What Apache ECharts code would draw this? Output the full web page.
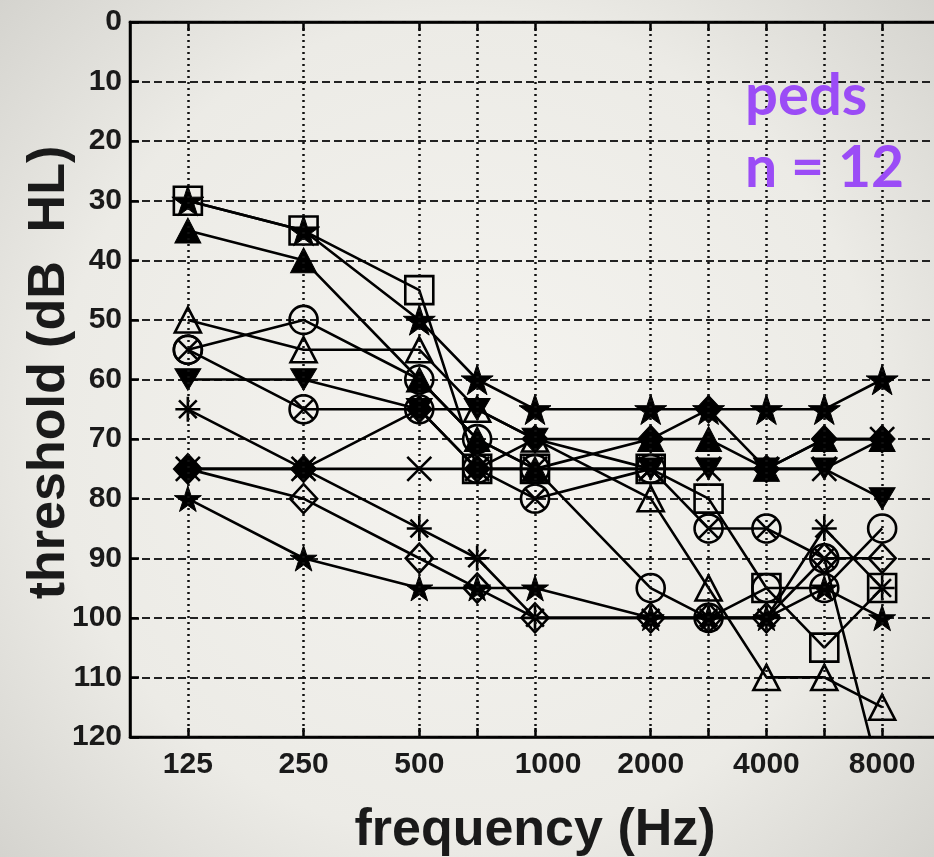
<!DOCTYPE html>
<html><head><meta charset="utf-8">
<script src="https://cdn.jsdelivr.net/npm/echarts@6/dist/echarts.min.js"></script>
<style>html,body{margin:0;padding:0;background:#eceae5}#c{width:934px;height:857px}</style>
</head><body><div id="c"></div>
<script>
// ---------- data ----------
const frequencies = [125, 250, 500, 750, 1000, 2000, 3000, 4000, 6000, 8000];
const tickLabels = ['125', '250', '500', '1000', '2000', '4000', '8000'];
const yMin = 0, yMax = 120, yStep = 10;

const subjSquare      = [30, 35, 45, 75, 75, 75, 80, 95, 105, 95];
const subjStarA       = [30, 35, 50, 60, 65, 65, 65, 65, 65, 60];
const subjTriUpFilled = [35, 40, 60, 70, 75, 70, 70, 75, 70, 70];
const subjTriUpOpen   = [50, 55, 55, 65, 70, 80, 95, 110, 110, 115];
const subjCircle      = [55, 50, 60, 70, 75, 95, 100, 95, 95, 85];
const subjCircleX     = [55, 65, 65, 75, 80, 75, 85, 85, 90, 128];
const subjTriDown     = [60, 60, 65, 65, 70, 75, 75, 75, 75, 80];
const subjAsterisk    = [65, 75, 85, 90, 100, 100, 100, 100, 85, 95];
const subjX           = [75, 75, 75, 75, 75, 75, 75, 75, 75, 70];
const subjDiamondOpen = [75, 80, 90, 95, 100, 100, 100, 100, 90, 90];
const subjStarB       = [80, 90, 95, 95, 95, 100, 100, 100, 95, 100];
const subjDiamondFill = [75, 75, 65, 75, 70, 70, 65, 75, 70, 70];

// ---------- audiogram frequency scale (octaves, inter-octaves mid-way) ----------
function octavePos(f) {
  const o = Math.floor(Math.log2(f / 125) + 1e-9);
  const base = 125 * Math.pow(2, o);
  return o + (f - base) / base;
}
const gridPos = frequencies.map(octavePos);
const labelPos = tickLabels.map(t => octavePos(+t));

// ---------- marker shapes ----------
function circlePts(n) {
  let s = '';
  for (let i = 0; i <= n; i++) {
    const a = 2 * Math.PI * i / n;
    s += (i ? ' L' : 'M') + (50 + 50 * Math.cos(a)).toFixed(2) + ',' + (50 + 50 * Math.sin(a)).toFixed(2);
  }
  return s + ' Z';
}
const P = {
  star: 'path://M50,0 L61.17,34.63 L97.55,34.55 L68.07,55.87 L79.39,90.45 L50,69 L20.61,90.45 L31.93,55.87 L2.45,34.55 L38.83,34.63 Z',
  triDown: 'path://M0,0 L100,0 L50,87 Z',
  asterisk: 'path://M50,0 L50,100 M0,50 L100,50 M14.6,14.6 L85.4,85.4 M85.4,14.6 L14.6,85.4',
  x: 'path://M0,0 L100,100 M100,0 L0,100',
  circleX: 'path://' + circlePts(48) + ' M14.6,14.6 L85.4,85.4 M85.4,14.6 L14.6,85.4'
};

const subjects = [
  { data: subjSquare,      symbol: 'rect',     size: 28, filled: false },
  { data: subjStarA,       symbol: P.star,     size: 32, filled: true },
  { data: subjTriUpFilled, symbol: 'triangle', size: [26, 25], filled: true },
  { data: subjTriUpOpen,   symbol: 'triangle', size: [26, 25], filled: false },
  { data: subjCircle,      symbol: 'circle',   size: 28, filled: false },
  { data: subjCircleX,     symbol: P.circleX,  size: 28, filled: false },
  { data: subjTriDown,     symbol: P.triDown,  size: [26, 25], filled: true },
  { data: subjAsterisk,    symbol: P.asterisk, size: 25, filled: false },
  { data: subjX,           symbol: P.x,        size: 24, filled: false },
  { data: subjDiamondOpen, symbol: 'diamond',  size: [27, 29], filled: false },
  { data: subjStarB,       symbol: P.star,     size: 27, filled: true },
  { data: subjDiamondFill, symbol: 'diamond',  size: [26, 28], filled: true }
];

const chart = echarts.init(document.getElementById('c'), null, { renderer: 'canvas' });

const series = subjects.map(s => ({
  type: 'line',
  data: frequencies.map((f, i) => [octavePos(f), s.data[i]]),
  symbol: s.symbol,
  symbolSize: s.size,
  symbolKeepAspect: true,
  showAllSymbol: true,
  clip: true,
  z: 3,
  lineStyle: { color: '#000', width: 2.6 },
  itemStyle: {
    color: s.filled ? '#000' : 'rgba(0,0,0,0)',
    borderColor: '#000',
    borderWidth: s.filled ? 1 : 2.6
  },
  emphasis: { disabled: true }
}));

// vertical dotted grid lines at audiogram frequencies
series.unshift({
  type: 'line',
  data: [],
  z: 1,
  silent: true,
  markLine: {
    silent: true,
    symbol: ['none', 'none'],
    label: { show: false },
    lineStyle: { color: '#111', type: [2, 4], width: 2.5 },
    data: gridPos.map(v => ({ xAxis: v })),
    animation: false
  }
});

const tickFont = { fontFamily: 'Liberation Sans', fontWeight: 'bold', fontSize: 30, color: '#1a1a1a' };

chart.setOption({
  animation: false,
  backgroundColor: {
    type: 'radial', x: 0.5, y: 0.5, r: 0.8,
    colorStops: [
      { offset: 0, color: '#f5f4f0' },
      { offset: 0.6, color: '#ecebe6' },
      { offset: 1, color: '#cfcec9' }
    ]
  },
  grid: {
    left: 130, top: 22, width: 810, height: 715,
    outerBoundsMode: 'none',
    containLabel: false,
    show: true, borderColor: '#000', borderWidth: 2.5, backgroundColor: 'transparent'
  },
  xAxis: [{
    type: 'value', min: -0.5, max: 6.5,
    position: 'bottom',
    splitLine: { show: false },
    axisLine: { show: true, onZero: false, lineStyle: { color: '#000', width: 2.5 } },
    axisTick: { show: true, inside: true, length: 9, customValues: gridPos, lineStyle: { color: '#000', width: 2.5 } },
    axisLabel: Object.assign({
      margin: 13,
      customValues: labelPos,
      formatter: v => {
        const i = labelPos.indexOf(v);
        if (i < 0) return '';
        const t = tickLabels[i];
        return t === '1000' ? '{s|' + t + '}' : t;
      },
      rich: { s: Object.assign({ padding: [0, 0, 0, 26] }, tickFont) }
    }, tickFont),
    name: 'frequency (Hz)',
    nameLocation: 'middle',
    nameGap: 68,
    nameMoveOverlap: false,
    nameTextStyle: { fontFamily: 'Liberation Sans', fontWeight: 'bold', fontSize: 52, color: '#1a1a1a' }
  }, {
    type: 'value', min: -0.5, max: 6.5,
    position: 'top',
    splitLine: { show: false },
    axisLine: { show: true, onZero: false, lineStyle: { color: '#000', width: 2.5 } },
    axisTick: { show: true, inside: true, length: 9, customValues: gridPos, lineStyle: { color: '#000', width: 2.5 } },
    axisLabel: { show: false }
  }],
  yAxis: {
    type: 'value', inverse: true, min: yMin, max: yMax, interval: yStep,
    axisLine: { show: true, onZero: false, lineStyle: { color: '#000', width: 2.5 } },
    axisTick: { show: true, inside: true, length: 9, lineStyle: { color: '#000', width: 2.5 } },
    axisLabel: Object.assign({ margin: 8 }, tickFont),
    splitLine: { show: true, lineStyle: { color: '#222', type: [8, 4], width: 2 } },
    name: 'threshold (dB  HL)',
    nameLocation: 'middle',
    nameGap: 54,
    nameRotate: 90,
    nameMoveOverlap: false,
    nameTextStyle: { fontFamily: 'Liberation Sans', fontWeight: 'bold', fontSize: 52, color: '#1a1a1a', padding: [0, 0, 0, 14] }
  },
  graphic: [
    { type: 'text', x: 745, y: 96, style: { text: 'peds', font: 'bold 58px Lato', fill: '#9b4cf6', verticalAlign: 'middle', align: 'left' }, z: 10 },
    { type: 'text', x: 745, y: 169, style: { text: 'n = 12', font: 'bold 57px Lato', fill: '#9b4cf6', verticalAlign: 'middle', align: 'left' }, z: 10 }
  ],
  series: series
});
</script>
</body></html>
